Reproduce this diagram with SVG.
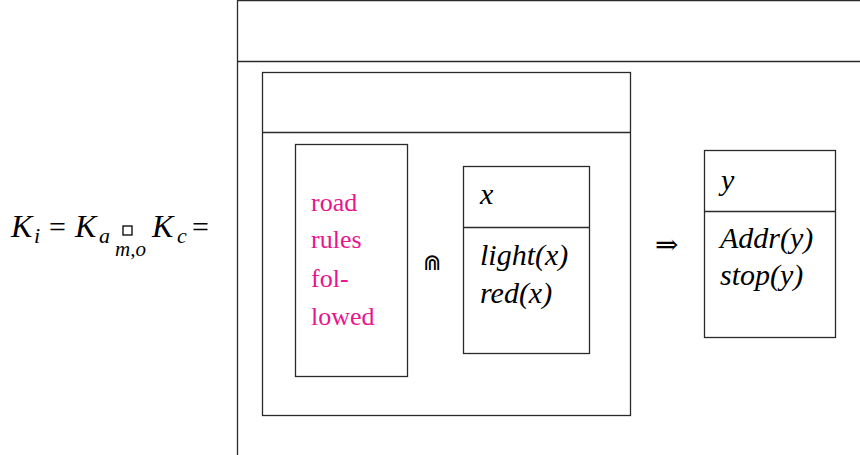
<svg xmlns="http://www.w3.org/2000/svg" width="860" height="455" viewBox="0 0 860 455">
<defs>
<style>
.b{fill:none;stroke:#2a2a2a;stroke-width:1.3}
</style>
</defs>
<rect width="860" height="455" fill="#fff"/>
<g id="formula">
<text font-family="Nimbus Roman, Tinos, FreeSerif, DejaVu Serif, serif" font-style="italic" x="11" y="237" font-size="32">K</text>
<text font-family="Nimbus Roman, Tinos, FreeSerif, DejaVu Serif, serif" font-style="italic" x="34" y="243" font-size="22">i</text>
<text font-family="Nimbus Roman, Tinos, FreeSerif, DejaVu Serif, serif" x="49" y="237" font-size="30">=</text>
<text font-family="Nimbus Roman, Tinos, FreeSerif, DejaVu Serif, serif" font-style="italic" x="75" y="237" font-size="32">K</text>
<text font-family="Nimbus Roman, Tinos, FreeSerif, DejaVu Serif, serif" font-style="italic" x="99" y="243" font-size="22">a</text>
<rect x="123" y="226" width="9" height="9" fill="none" stroke="#000" stroke-width="1.3"/>
<text font-family="Nimbus Roman, Tinos, FreeSerif, DejaVu Serif, serif" font-style="italic" x="115" y="256" font-size="21">m,o</text>
<text font-family="Nimbus Roman, Tinos, FreeSerif, DejaVu Serif, serif" font-style="italic" x="152" y="237" font-size="32">K</text>
<text font-family="Nimbus Roman, Tinos, FreeSerif, DejaVu Serif, serif" font-style="italic" x="177" y="243" font-size="22">c</text>
<text font-family="Nimbus Roman, Tinos, FreeSerif, DejaVu Serif, serif" x="192" y="237" font-size="30">=</text>
</g>
<g id="outer">
<path class="b" d="M237.5 460V0.5H865M237.5 61.5H865"/>
</g>
<g id="inner">
<rect class="b" x="262.5" y="72.5" width="368" height="343"/>
<line class="b" x1="262.5" y1="132.5" x2="630.5" y2="132.5"/>
</g>
<g id="road">
<rect class="b" x="295.5" y="144.5" width="112" height="232"/>
<text font-family="Nimbus Roman, Tinos, FreeSerif, DejaVu Serif, serif" font-size="26" fill="#e8158f" x="311" y="211">road</text>
<text font-family="Nimbus Roman, Tinos, FreeSerif, DejaVu Serif, serif" font-size="26" fill="#e8158f" x="311" y="248">rules</text>
<text font-family="Nimbus Roman, Tinos, FreeSerif, DejaVu Serif, serif" font-size="26" fill="#e8158f" x="311" y="287">fol-</text>
<text font-family="Nimbus Roman, Tinos, FreeSerif, DejaVu Serif, serif" font-size="26" fill="#e8158f" x="311" y="325">lowed</text>
</g>
<g id="op">
<text font-family="DejaVu Sans, sans-serif" x="423" y="270" font-size="22">⋒</text>
</g>
<g id="xbox">
<rect class="b" x="463.5" y="166.5" width="126" height="187"/>
<line class="b" x1="463.5" y1="227.5" x2="589.5" y2="227.5"/>
<text font-family="Nimbus Roman, Tinos, FreeSerif, DejaVu Serif, serif" font-style="italic" font-size="30" x="480" y="204">x</text>
<text font-family="Nimbus Roman, Tinos, FreeSerif, DejaVu Serif, serif" font-style="italic" font-size="30" x="480" y="265">light(x)</text>
<text font-family="Nimbus Roman, Tinos, FreeSerif, DejaVu Serif, serif" font-style="italic" font-size="30" x="480" y="303">red(x)</text>
</g>
<g id="implies">
<text font-family="DejaVu Serif, serif" x="655" y="254" font-size="28">⇒</text>
</g>
<g id="ybox">
<rect class="b" x="704.5" y="150.5" width="131" height="187"/>
<line class="b" x1="704.5" y1="211.5" x2="835.5" y2="211.5"/>
<text font-family="Nimbus Roman, Tinos, FreeSerif, DejaVu Serif, serif" font-style="italic" font-size="30" x="721" y="190">y</text>
<text font-family="Nimbus Roman, Tinos, FreeSerif, DejaVu Serif, serif" font-style="italic" font-size="30" x="720" y="248">Addr(y)</text>
<text font-family="Nimbus Roman, Tinos, FreeSerif, DejaVu Serif, serif" font-style="italic" font-size="30" x="720" y="285">stop(y)</text>
</g>
</svg>
